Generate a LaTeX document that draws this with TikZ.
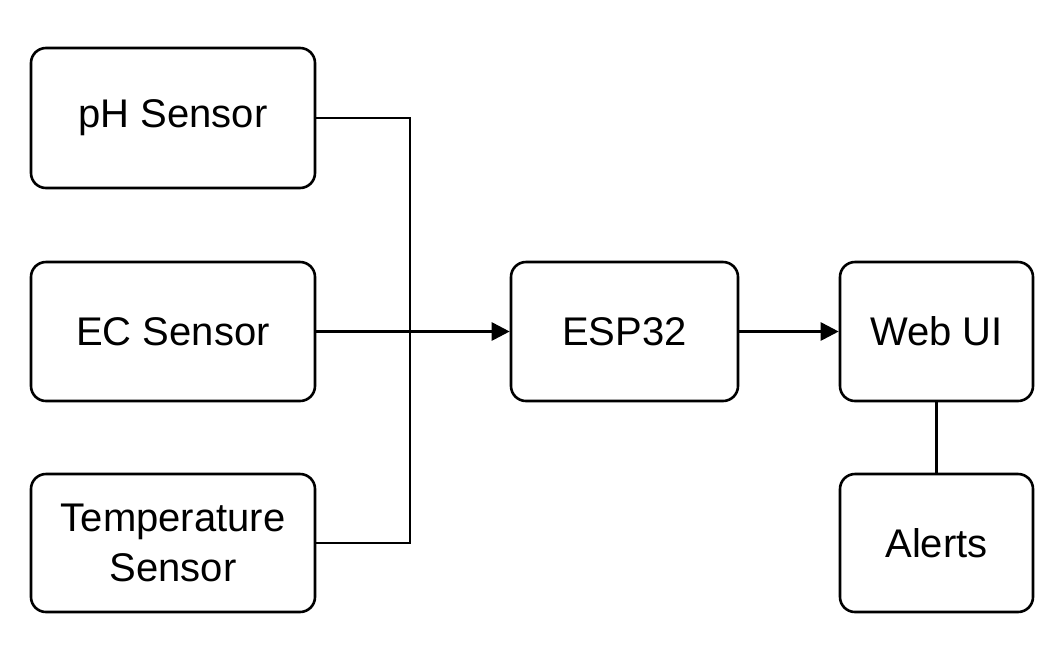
\documentclass[tikz,border=0pt]{standalone}
\usepackage{fontspec}
\setmainfont{Liberation Sans}
\usetikzlibrary{arrows.meta}
\begin{document}
\begin{tikzpicture}[x=1pt,y=-1pt,
  box/.style={draw,line width=2.6pt,rounded corners=15pt,font=\fontsize{40}{50}\selectfont,align=center},
  conn/.style={line width=2.8pt},
  arr/.style={conn,-{Triangle[length=18pt,width=18pt]}}]
\useasboundingbox (0,0) rectangle (1057,657);
\node[box,minimum width=284pt,minimum height=140pt] (ph) at (173,118) {pH Sensor};
\node[box,minimum width=284pt,minimum height=139pt] (ec) at (173,331.5) {EC Sensor};
\node[box,minimum width=284pt,minimum height=138pt] (temp) at (173,543) {Temperature\\Sensor};
\node[box,minimum width=227pt,minimum height=139pt] (esp) at (624.5,331.5) {ESP32};
\node[box,minimum width=193pt,minimum height=139pt] (web) at (936.5,331.5) {Web UI};
\node[box,minimum width=193pt,minimum height=138pt] (al) at (936.5,543) {Alerts};
\coordinate (bt) at (410,118);
\coordinate (bb) at (410,543);
\draw[conn] (ph.east) -- (bt) -- (bb) -- (temp.east);
\draw[arr] (ec.east) -- (esp.west);
\draw[arr] (esp.east) -- (web.west);
\draw[conn] (web.south) -- (al.north);
\end{tikzpicture}
\end{document}
